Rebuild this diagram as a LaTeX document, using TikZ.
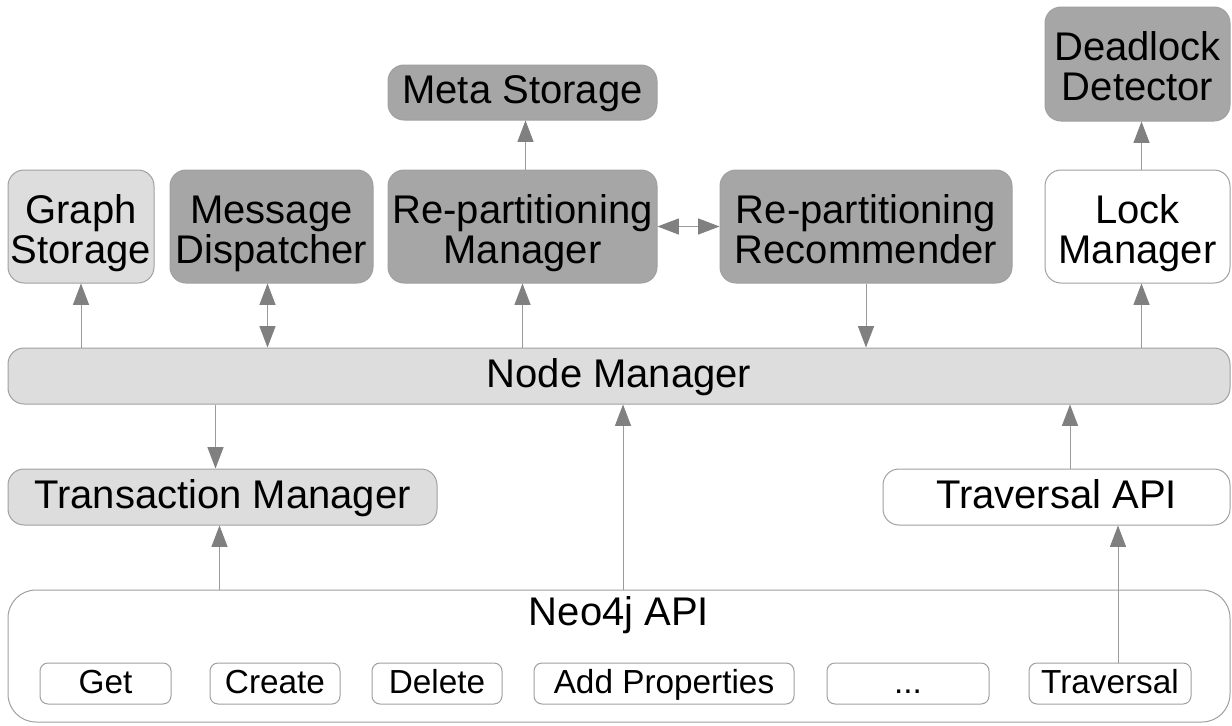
\documentclass[tikz,border=0pt]{standalone}
\usepackage{fontspec}
\setmainfont{Liberation Sans}
\usetikzlibrary{arrows.meta,calc}
\definecolor{darkfill}{HTML}{A6A6A6}
\definecolor{lightfill}{HTML}{DDDDDD}
\definecolor{edgegray}{HTML}{A0A0A0}
\definecolor{wiregray}{HTML}{9A9A9A}
\definecolor{tipgray}{HTML}{808080}
% labels with fixed baselines, independent of descenders
\newcommand\oneline[1]{\rule[-4pt]{0pt}{25pt}\smash{#1}}
\newcommand\twolines[2]{\rule{0pt}{27pt}\smash{#1}\\\rule[-2.2pt]{0pt}{0pt}\smash{#2}}
\newcommand\oplabel[1]{\rule[-4.75pt]{0pt}{25pt}\smash{#1}}
\begin{document}
\begin{tikzpicture}[x=0.75pt,y=-0.75pt,
  box/.style={draw=edgegray, line width=0.75pt, rounded corners=12pt, inner sep=0pt,
    align=center, font=\fontsize{30}{30}\selectfont},
  sz/.style 2 args={minimum width=#1*0.75pt, minimum height=#2*0.75pt},
  dk/.style={box, fill=darkfill},
  lt/.style={box, fill=lightfill},
  wt/.style={box, fill=white},
  op/.style={draw=edgegray, line width=0.75pt, rounded corners=6pt, inner sep=0pt,
    fill=white, font=\fontsize{25}{28}\selectfont},
  arr/.style={draw=wiregray, line width=0.75pt, -{Triangle[width=12pt,length=16pt,color=tipgray]}},
  darr/.style={draw=wiregray, line width=0.75pt,
    {Triangle[width=12pt,length=16pt,color=tipgray]}-{Triangle[width=12pt,length=16pt,color=tipgray]}}]
\useasboundingbox (0,0) rectangle (1232,725);

% upper row of components
\node[lt, sz={146}{113}] (gs) at (81,226.5) {\twolines{Graph}{Storage}};
\node[dk, sz={203}{113}] (md) at (271.5,226.5) {\twolines{Message}{Dispatcher}};
\node[dk, sz={269}{113}] (rm) at (522.5,226.5) {\twolines{Re-partitioning}{Manager}};
\node[dk, sz={292}{113}] (rr) at (866,226.5) {\twolines{Re-partitioning}{Recommender}};
\node[wt, sz={185}{113}] (lm) at (1137.5,226.5) {\twolines{Lock}{Manager}};
\node[dk, sz={269}{55}] (ms) at (522.5,92.5) {\oneline{Meta Storage}};
\node[dk, sz={185}{114}] (dd) at (1137.5,64) {\twolines{Deadlock}{Detector}};

% node manager layer
\node[lt, sz={1222}{56}] (nm) at (619,376) {\oneline{Node Manager}};
\node[lt, sz={429}{56}] (tm) at (222.5,497) {\oneline{Transaction Manager}};
\node[wt, sz={347}{56}] (ta) at (1056.5,497) {\oneline{Traversal API}};

% Neo4j API with its operations
\node[box, fill=white, rounded corners=21pt, sz={1222}{132}] (neo) at (619,656) {};
\node[font=\fontsize{30}{30}\selectfont, inner sep=0pt, anchor=base] (neolbl) at (619,625) {Neo4j API};
\node[op, sz={131}{41}] (get) at (105.5,683.5) {\oplabel{Get}};
\node[op, sz={130}{41}] (create) at (275,683.5) {\oplabel{Create}};
\node[op, sz={130}{41}] (delete) at (437,683.5) {\oplabel{Delete}};
\node[op, sz={260}{41}] (addp) at (664,683.5) {\oplabel{Add Properties}};
\node[op, sz={162}{41}] (dots) at (908,683.5) {\oplabel{.{}.{}.}};
\node[op, sz={162}{41}] (trav) at (1110,683.5) {\oplabel{Traversal}};

% connectors
\draw[arr] (gs.south |- nm.north) -- (gs.south);
\draw[darr] ($(md.south)+(-4,0)$) -- ($(md.south |- nm.north)+(-4,0)$);
\draw[arr] (rm.south |- nm.north) -- (rm.south);
\draw[arr] ($(rm.north)+(3,0)$) -- ($(ms.south)+(3,0)$);
\draw[darr] (rm.east) -- (rr.west);
\draw[arr] (rr.south) -- (rr.south |- nm.north);
\draw[arr] ($(lm.south |- nm.north)+(4,0)$) -- ($(lm.south)+(4,0)$);
\draw[arr] ($(lm.north)+(4,0)$) -- ($(dd.south)+(4,0)$);
\draw[arr] ($(nm.south -| tm.north)+(-7,0)$) -- ($(tm.north)+(-7,0)$);
\draw[arr] ($(neo.north -| tm.south)+(-3,0)$) -- ($(tm.south)+(-3,0)$);
\draw[arr] ($(neo.north)+(4,0)$) -- ($(nm.south)+(4,0)$);
\draw[arr] ($(ta.north)+(13.5,0)$) -- ($(nm.south -| ta.north)+(13.5,0)$);
\draw[arr] ($(trav.north)+(8,0)$) -- ($(ta.south -| trav.north)+(8,0)$);
\end{tikzpicture}
\end{document}
